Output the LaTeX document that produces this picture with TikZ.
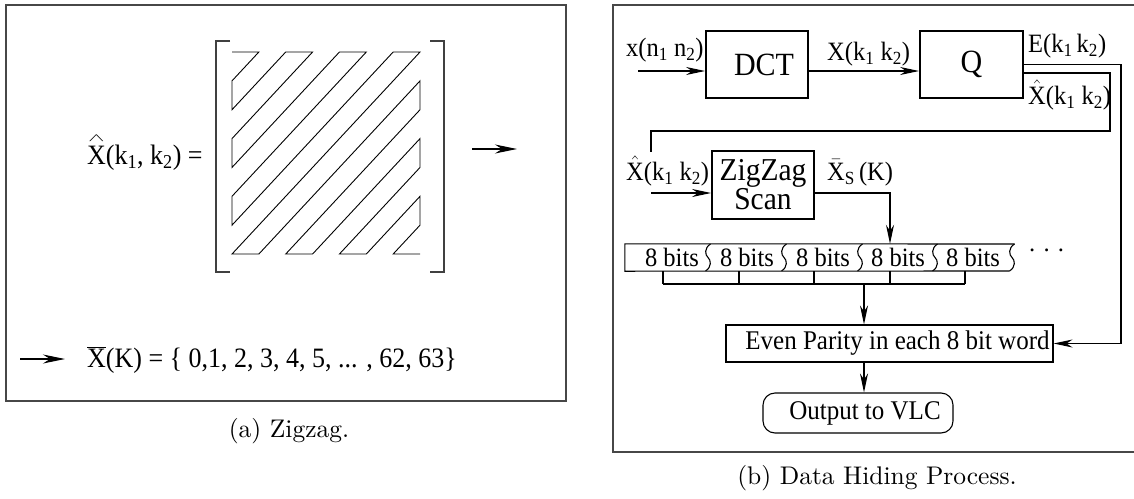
\documentclass[tikz,border=0pt]{standalone}
\usepackage{fontspec}
\newfontfamily\tms{Liberation Serif}
\newfontfamily\capfont{lmroman10-regular.otf}
\newcommand\tall[1]{\scalebox{1}[1.08]{#1}}
% X with a wide, flat caret above it
\newcommand\wideX{\makebox[0pt][l]{\hspace{0.9pt}\raisebox{21pt}{\scalebox{1}[0.42]{$\wedge$}}}X}
\usetikzlibrary{arrows.meta}
\begin{document}
\begin{tikzpicture}[x=1pt,y=-1pt,
  frame/.style={draw=black!72,line width=1.3pt},
  brk/.style={draw=black!75,line width=1.3pt},
  conn/.style={line width=1.1pt},
  arr/.style={conn,-{Stealth[length=19pt,width=8pt,inset=6pt]}},
  arrA/.style={line width=1.2pt,-{Stealth[length=22pt,width=9pt,inset=7pt]}},
  fa/.style={font=\tms\fontsize{26}{28}\selectfont,inner sep=0pt},
  fb/.style={font=\tms\fontsize{24.5}{26}\selectfont,inner sep=0pt},
  heavybox/.style={draw,line width=1.9pt,inner sep=0pt,font=\tms\fontsize{30}{28}\selectfont},
  lightbox/.style={draw,line width=1.1pt,inner sep=0pt,font=\tms\fontsize{25}{26}\selectfont},
  capt/.style={font=\capfont\fontsize{25.5}{30}\selectfont,inner sep=0pt}
]
\useasboundingbox (0,0) rectangle (1134,498);

% ---------------- (a) zigzag ordering ----------------
\draw[frame] (6,5) rectangle (566,401);
\node[fa,anchor=base west] (xhat) at (87,164)
  {\tall{\wideX(k\textsubscript{1}, k\textsubscript{2}) =}};

% matrix brackets
\draw[brk] (230,41) -- (216,41) -- (216,272) -- (230,272);
\draw[brk] (430,41) -- (444,41) -- (444,272) -- (430,272);

% 8x8 zigzag scan path
\begin{scope}[shift={(232,52)},x=26.86pt,y=-28.86pt]
\draw[line width=0.9pt,line join=miter]
  (0,0) -- (1,0) -- (0,1) -- (0,2) -- (2,0) -- (3,0) -- (0,3) -- (0,4)
  -- (4,0) -- (5,0) -- (0,5) -- (0,6) -- (6,0) -- (7,0) -- (0,7) -- (1,7)
  -- (7,1) -- (7,2) -- (2,7) -- (3,7) -- (7,3) -- (7,4) -- (4,7) -- (5,7)
  -- (7,5) -- (7,6) -- (6,7) -- (7,7);
\end{scope}

\coordinate (zzA) at (472,149);
\coordinate (zzB) at (517,149);
\draw[arrA] (zzA) -- (zzB);
\coordinate (lsA) at (20,359);
\coordinate (lsB) at (65,359);
\draw[arrA] (lsA) -- (lsB);
\node[fa,anchor=base west] (xbar) at (87,367)
  {\tall{$\overline{\mbox{X}}$(K) = \{ 0,1, 2, 3, 4, 5, ... , 62, 63\}}};
\node[capt] (capa) at (289,431) {(a) Zigzag.};

% ---------------- (b) data hiding process ----------------
\draw[frame] (1134,5) -- (613,5) -- (613,452) -- (1134,452);

\node[heavybox,minimum width=102pt,minimum height=67pt] (dct) at (757,64.5) {\hspace*{14pt}\tall{DCT}};
\node[heavybox,minimum width=103pt,minimum height=67pt] (q) at (971.5,64.5) {\tall{Q}};
\node[heavybox,align=center,minimum width=102pt,minimum height=68pt,
      font=\tms\fontsize{29.5}{27}\selectfont] (zz) at (763,185) {\tall{ZigZag}\\\tall{Scan}};
\node[minimum width=387pt,minimum height=27pt,inner sep=0pt] (row) at (818.5,257.5) {};
\node[lightbox,minimum width=327pt,minimum height=37pt] (ep) at (889.5,343.5)
  {\hspace*{16pt}\tall{Even Parity in each 8 bit word}};
\node[lightbox,rounded corners=12pt,minimum width=190pt,minimum height=40pt] (out) at (858,413)
  {\hspace*{14pt}\tall{Output to VLC}};

% signal labels
\node[fb,anchor=base west] (lx) at (626,56) {\tall{x(n\textsubscript{1} n\textsubscript{2})}};
\node[fb,anchor=base west] (lX) at (827,60) {\tall{X(k\textsubscript{1} k\textsubscript{2})}};
\node[fb,anchor=base west] (lE) at (1028,52) {\tall{E(k\textsubscript{1}\,k\textsubscript{2})}};
\node[fb,anchor=base west] (lXh) at (1028,104) {\tall{$\hat{\mbox{X}}$(k\textsubscript{1} k\textsubscript{2})}};
\node[fb,anchor=base west] (lXh2) at (626,180) {\tall{$\hat{\mbox{X}}$(k\textsubscript{1} k\textsubscript{2})}};
\node[fb,anchor=base west] (lXs) at (827,180) {\tall{$\bar{\mbox{X}}$\textsubscript{S}\,(K)}};

% first row
\coordinate (xin) at (638,71);
\draw[arr] (xin) -- (xin -| dct.west);
\draw[arr] (xin -| dct.east) -- (xin -| q.west);

% E(k1 k2) runs down to the parity stage
\coordinate (ecol) at (1121,64.5);
\draw[arr] (q.east) -- (ecol) -- (ecol |- ep.east) -- (ep.east);

% quantised coefficients loop back to the zigzag scan
\coordinate (hA) at (1110,73);
\coordinate (hB) at (1110,131);
\coordinate (hC) at (651,131);
\coordinate (hD) at (651,152);
\draw[conn] (hA -| q.east) -- (hA) -- (hB) -- (hC) -- (hD);
\coordinate (zin) at (651,193);
\draw[arr] (zin) -- (zin -| zz.west);
\coordinate (zout) at (890,193);
\draw[arr] (zin -| zz.east) -- (zout) -- (zout |- row.north);

% stream of 8-bit words
\draw[conn] (1014.5,244) -- (row.north west) -- (row.south west) -- (1009.5,271);
\foreach \s in {708,784,860,935,1012}
  \draw[conn] (\s+2.5,244) .. controls (\s-4,248) and (\s-3,255) .. (\s,257.5)
              .. controls (\s+3,260) and (\s+4,267) .. (\s-2.5,271);
\foreach \x/\n in {672/1,747/2,823/3,898/4,973/5}
  \node[fb,anchor=base] (bits\n) at (\x,266) {\tall{8 bits}};
\node[fb,anchor=base west] (dots) at (1028,258) {· · ·};

% words gathered into the parity stage
\foreach \x in {663,739,814,890,965}
  \draw[conn] (\x,271) -- (\x,284);
\draw[conn] (663,284) -- (965,284);
\draw[line width=2.4pt] (941,284) -- (947,284);
\coordinate (coll) at (864,284);
\draw[arr] (coll) -- (coll |- ep.north);
\draw[arr] (coll |- ep.south) -- (coll |- out.north);

\node[capt] (capb) at (877,478) {(b) Data Hiding Process.};
\end{tikzpicture}
\end{document}
